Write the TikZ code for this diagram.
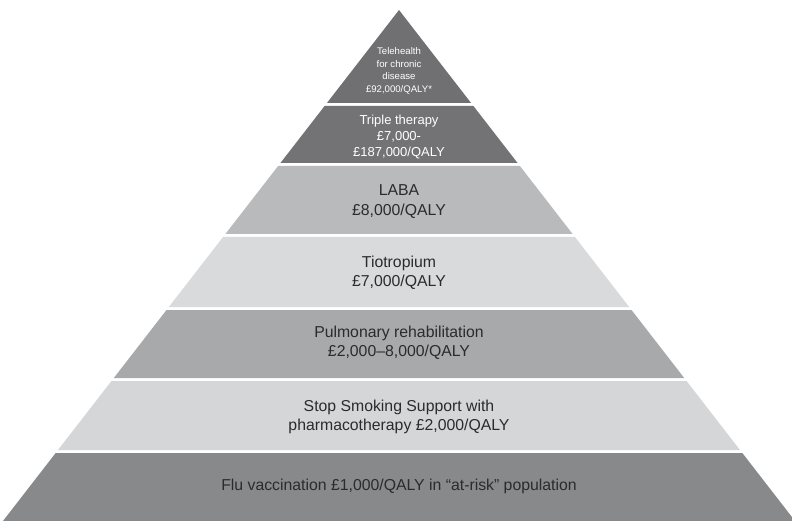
\documentclass[tikz,border=0pt]{standalone}
\usepackage{fontspec}
\setmainfont{Liberation Sans}
\definecolor{cA}{HTML}{707072}
\definecolor{cB}{HTML}{737375}
\definecolor{cC}{HTML}{B9BABC}
\definecolor{cD}{HTML}{D9DADC}
\definecolor{cE}{HTML}{A8A9AB}
\definecolor{cF}{HTML}{D5D6D8}
\definecolor{cG}{HTML}{88898B}
\definecolor{txtdark}{HTML}{2B2B2B}
\tikzset{
  lbl/.style={align=center, inner sep=0pt, font=\fontsize{15.8}{19.5}\selectfont, text=txtdark},
  lbllight/.style={lbl, text=white},
}
\begin{document}
\begin{tikzpicture}[x=1pt,y=-1pt]
\useasboundingbox (0,0) rectangle (792,521);
\fill[white] (0,0) rectangle (792,521);
\def\cx{399}\def\ay{10}\def\sl{0.775}
% layers: top, bottom, colour
\foreach \t/\b/\c in {10/103/cA,106/163/cB,166/234/cC,237/307/cD,310/378/cE,381/450/cF,453/521/cG}{
  \pgfmathsetmacro\wt{\sl*(\t-\ay)}
  \pgfmathsetmacro\wb{\sl*(\b-\ay)}
  \fill[\c] (\cx-\wt,\t) -- (\cx+\wt,\t) -- (\cx+\wb,\b) -- (\cx-\wb,\b) -- cycle;
}
\node[lbllight, font=\fontsize{9.6}{12.7}\selectfont] (tele) at (\cx,71) {Telehealth\\for chronic\\disease\\£92,000/QALY*};
\node[lbllight, font=\fontsize{13}{16}\selectfont] (triple) at (\cx,137) {Triple therapy\\£7,000-\\£187,000/QALY};
\node[lbl] (laba) at (\cx,201.5) {LABA\\£8,000/QALY};
\node[lbl] (tio) at (\cx,273) {Tiotropium\\£7,000/QALY};
\node[lbl] (pulm) at (\cx,343) {Pulmonary rehabilitation\\£2,000–8,000/QALY};
\node[lbl] (stop) at (\cx,417) {Stop Smoking Support with\\pharmacotherapy £2,000/QALY};
\node[lbl] (flu) at (\cx,486) {Flu vaccination £1,000/QALY in “at-risk” population};
\end{tikzpicture}
\end{document}
